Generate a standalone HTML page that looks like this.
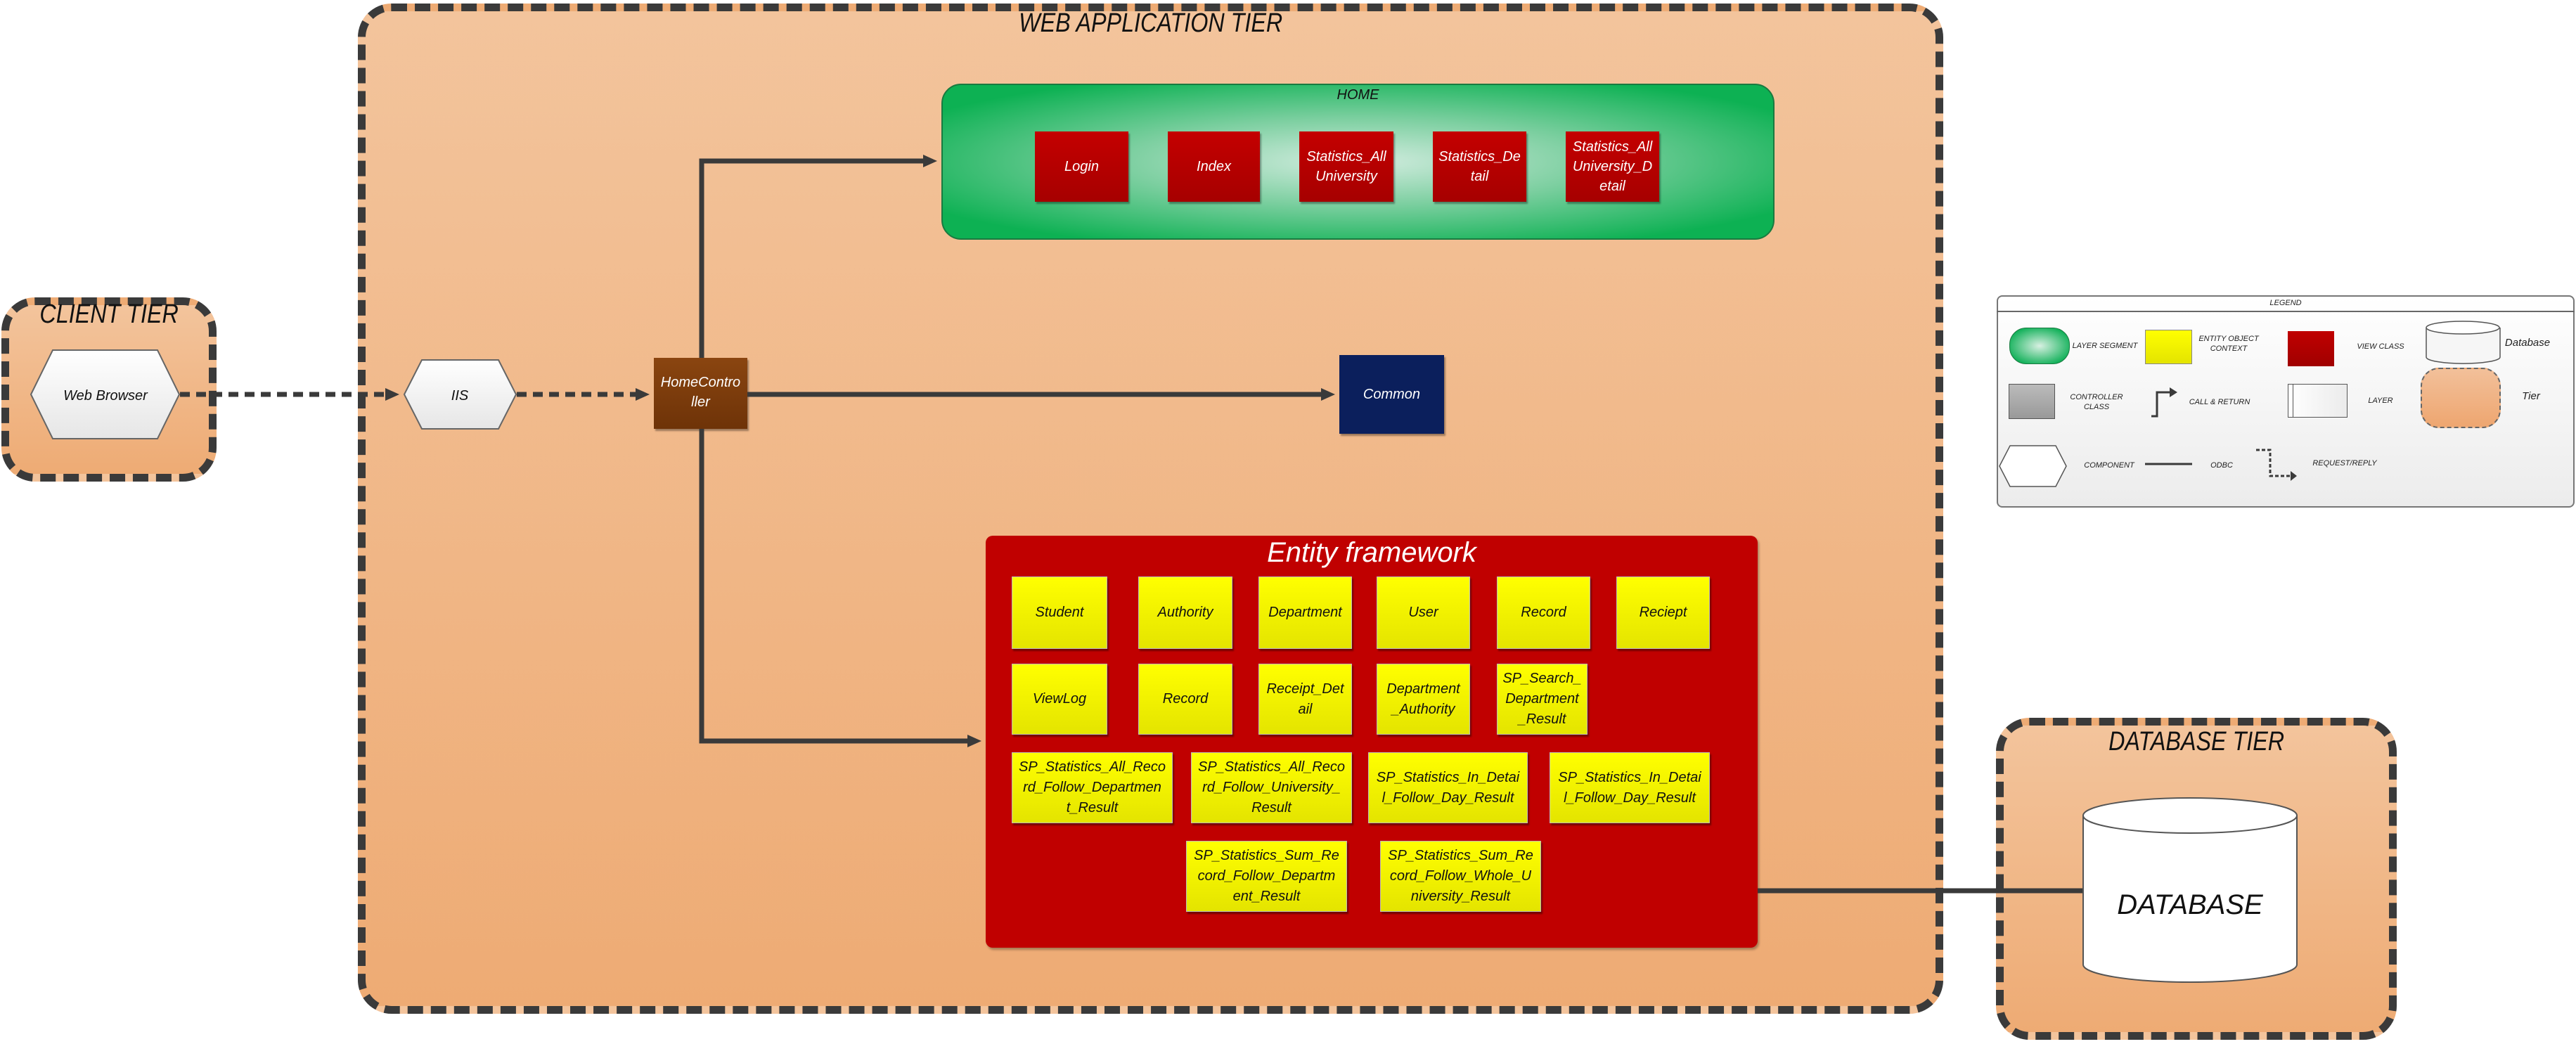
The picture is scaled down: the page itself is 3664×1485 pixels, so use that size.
<!DOCTYPE html>
<html><head><meta charset="utf-8"><style>
*{margin:0;padding:0;box-sizing:border-box}
body{width:3664px;height:1485px;background:#fff;position:relative;overflow:hidden;font-family:"Liberation Sans",sans-serif;font-style:italic}
.abs{position:absolute}
.tier{position:absolute;border:11px dashed #3a3a3a;border-radius:48px;background:linear-gradient(#f3c49c,#eeab74)}
.ttl{position:absolute;left:0;right:0;text-align:center;font-size:38px;color:#111}
.ttl span{display:inline-block;transform:scaleX(0.85)}
.red{position:absolute;background:linear-gradient(#c40000,#a60000);color:#fff;font-size:20px;display:flex;align-items:center;justify-content:center;text-align:center;line-height:28px;box-shadow:2px 3px 2px rgba(0,0,0,.35)}
.yel{position:absolute;background:linear-gradient(#ffff00,#e4e400);color:#111;font-size:20px;display:flex;align-items:center;justify-content:center;text-align:center;line-height:29px;box-shadow:2px 3px 2px rgba(0,0,0,.4);border:1px solid #bbb}
.lg{position:absolute;font-size:11px;color:#222;text-align:center;line-height:14px}
</style></head><body>

<div class="tier" style="left:509px;top:5px;width:2255px;height:1437px"></div>
<div class="ttl" style="left:509px;width:2255px;top:12px"><span>WEB APPLICATION TIER</span></div>
<div class="tier" style="left:2px;top:423px;width:306px;height:262px"></div>
<div class="ttl" style="left:2px;width:306px;top:426px"><span>CLIENT TIER</span></div>
<div class="tier" style="left:2839px;top:1021px;width:570px;height:458px"></div>
<div class="ttl" style="left:2839px;width:570px;top:1034px"><span>DATABASE TIER</span></div>

<!-- HOME -->
<div class="abs" style="left:1339px;top:119px;width:1185px;height:222px;border-radius:28px;border:2px solid #1a7a40;background:radial-gradient(ellipse at center,#d2ecdf 0%,#7ccfa0 40%,#0db153 85%)"></div>
<div class="abs" style="left:1339px;top:124px;width:1185px;text-align:center;font-size:20px;color:#111">HOME</div>
<div class="red" style="left:1472px;top:187px;width:133px;height:100px">Login</div>
<div class="red" style="left:1661px;top:187px;width:131px;height:100px">Index</div>
<div class="red" style="left:1848px;top:187px;width:134px;height:100px">Statistics_All<br>University</div>
<div class="red" style="left:2038px;top:187px;width:133px;height:100px">Statistics_De<br>tail</div>
<div class="red" style="left:2227px;top:187px;width:133px;height:100px">Statistics_All<br>University_D<br>etail</div>

<div class="abs" style="left:930px;top:509px;width:133px;height:101px;background:linear-gradient(#8a4510,#6e3308);color:#fff;font-size:20px;text-align:center;line-height:28px;padding-top:21px;box-shadow:2px 3px 2px rgba(0,0,0,.35)">HomeContro<br>ller</div>
<div class="abs" style="left:1905px;top:505px;width:149px;height:112px;background:#0b1f5c;color:#fff;font-size:20px;display:flex;align-items:center;justify-content:center;box-shadow:2px 3px 2px rgba(0,0,0,.35)">Common</div>

<!-- Entity -->
<div class="abs" style="left:1402px;top:762px;width:1098px;height:586px;border-radius:10px;background:#c00000;box-shadow:2px 3px 3px rgba(0,0,0,.3)"></div>
<div class="abs" style="left:1402px;top:764px;width:1098px;text-align:center;font-size:40px;color:#fff">Entity framework</div>
<div class="yel" style="left:1439px;top:820px;width:136px;height:103px">Student</div>
<div class="yel" style="left:1619px;top:820px;width:134px;height:103px">Authority</div>
<div class="yel" style="left:1790px;top:820px;width:133px;height:103px">Department</div>
<div class="yel" style="left:1958px;top:820px;width:133px;height:103px">User</div>
<div class="yel" style="left:2129px;top:820px;width:133px;height:103px">Record</div>
<div class="yel" style="left:2299px;top:820px;width:133px;height:103px">Reciept</div>
<div class="yel" style="left:1439px;top:944px;width:136px;height:101px">ViewLog</div>
<div class="yel" style="left:1619px;top:944px;width:134px;height:101px">Record</div>
<div class="yel" style="left:1790px;top:944px;width:133px;height:101px">Receipt_Det<br>ail</div>
<div class="yel" style="left:1958px;top:944px;width:133px;height:101px">Department<br>_Authority</div>
<div class="yel" style="left:2129px;top:944px;width:129px;height:101px">SP_Search_<br>Department<br>_Result</div>
<div class="yel" style="left:1439px;top:1070px;width:229px;height:101px">SP_Statistics_All_Reco<br>rd_Follow_Departmen<br>t_Result</div>
<div class="yel" style="left:1694px;top:1070px;width:229px;height:101px">SP_Statistics_All_Reco<br>rd_Follow_University_<br>Result</div>
<div class="yel" style="left:1946px;top:1070px;width:227px;height:101px">SP_Statistics_In_Detai<br>l_Follow_Day_Result</div>
<div class="yel" style="left:2204px;top:1070px;width:228px;height:101px">SP_Statistics_In_Detai<br>l_Follow_Day_Result</div>
<div class="yel" style="left:1687px;top:1196px;width:229px;height:101px">SP_Statistics_Sum_Re<br>cord_Follow_Departm<br>ent_Result</div>
<div class="yel" style="left:1963px;top:1196px;width:229px;height:101px">SP_Statistics_Sum_Re<br>cord_Follow_Whole_U<br>niversity_Result</div>

<!-- Legend -->
<div class="abs" style="left:2840px;top:420px;width:822px;height:302px;border:2px solid #777;border-radius:8px;background:linear-gradient(#fff,#ececec)"></div>
<div class="abs" style="left:2840px;top:442px;width:822px;border-top:2px solid #666"></div>
<div class="lg" style="left:2840px;top:424px;width:822px">LEGEND</div>
<div class="abs" style="left:2858px;top:466px;width:86px;height:52px;border-radius:24px;border:1px solid #1a7a40;background:radial-gradient(#d8f0e2,#10b058 80%)"></div>
<div class="abs" style="left:3051px;top:469px;width:67px;height:49px;background:linear-gradient(#ffff00,#e4e400);border:1px solid #888"></div>
<div class="abs" style="left:3254px;top:471px;width:66px;height:50px;background:linear-gradient(#c00000,#a00000)"></div>
<div class="abs" style="left:2857px;top:546px;width:66px;height:50px;background:linear-gradient(#bbb,#999);border:1px solid #555"></div>
<div class="abs" style="left:3254px;top:546px;width:85px;height:48px;background:linear-gradient(90deg,#fff,#ebebeb);border:1px solid #555"></div>
<div class="abs" style="left:3261px;top:546px;width:1px;height:48px;background:#555"></div>
<div class="abs" style="left:3443px;top:523px;width:114px;height:86px;border-radius:26px;border:2px dashed #666;background:linear-gradient(#f2c09a,#eea670)"></div>
<div class="lg" style="left:2944px;top:485px;width:100px">LAYER SEGMENT</div>
<div class="lg" style="left:3120px;top:475px;width:100px">ENTITY OBJECT<br>CONTEXT</div>
<div class="lg" style="left:3336px;top:486px;width:100px">VIEW CLASS</div>
<div class="lg" style="left:3560px;top:481px;width:70px;font-size:15px">Database</div>
<div class="lg" style="left:2932px;top:558px;width:100px">CONTROLLER<br>CLASS</div>
<div class="lg" style="left:3107px;top:565px;width:100px">CALL &amp; RETURN</div>
<div class="lg" style="left:3336px;top:563px;width:100px">LAYER</div>
<div class="lg" style="left:3575px;top:557px;width:50px;font-size:15px">Tier</div>
<div class="lg" style="left:2950px;top:655px;width:100px">COMPONENT</div>
<div class="lg" style="left:3120px;top:655px;width:80px">ODBC</div>
<div class="lg" style="left:3280px;top:652px;width:110px">REQUEST/REPLY</div>

<svg class="abs" style="left:0;top:0" width="3664" height="1485">
<defs>
<marker id="ah" markerWidth="24" markerHeight="22" refX="4" refY="11" orient="auto" markerUnits="userSpaceOnUse"><path d="M0,2 L20,11 L0,20 z" fill="#3a3a3a"/></marker>
<linearGradient id="hx" x1="0" y1="0" x2="0" y2="1"><stop offset="0" stop-color="#fff"/><stop offset="1" stop-color="#e6e6e6"/></linearGradient>
</defs>
<polygon points="44,561 75,498 224,498 255,561 224,624 75,624" fill="url(#hx)" stroke="#666" stroke-width="2"/>
<text x="150" y="569" font-size="20" font-style="italic" text-anchor="middle" fill="#111" font-family="Liberation Sans">Web Browser</text>
<polygon points="575,561 600,512 709,512 734,561 709,610 600,610" fill="url(#hx)" stroke="#666" stroke-width="2"/>
<text x="654" y="569" font-size="20" font-style="italic" text-anchor="middle" fill="#111" font-family="Liberation Sans">IIS</text>
<g stroke="#3a3a3a" stroke-width="7" fill="none">
<path d="M256,561 H552" stroke-dasharray="14,9" marker-end="url(#ah)"/>
<path d="M735,561 H908" stroke-dasharray="14,9" marker-end="url(#ah)"/>
<path d="M1063,561 H1883" marker-end="url(#ah)"/>
<path d="M998,509 V229 H1317" marker-end="url(#ah)"/>
<path d="M998,610 V1054 H1380" marker-end="url(#ah)"/>
<path d="M2500,1267 H2963"/>
</g>
<path d="M2963,1160 V1372 A152,25 0 0 0 3267,1372 V1160" fill="#fff" stroke="#555" stroke-width="2"/>
<ellipse cx="3115" cy="1160" rx="152" ry="25" fill="#fff" stroke="#555" stroke-width="2"/>
<text x="3115" y="1300" font-size="40" font-style="italic" text-anchor="middle" fill="#111" font-family="Liberation Sans">DATABASE</text>
<path d="M3451,466 V508 A52,9 0 0 0 3556,508 V466" fill="#f6f6f6" stroke="#555" stroke-width="1.5"/>
<ellipse cx="3503" cy="466" rx="52" ry="9" fill="#fff" stroke="#555" stroke-width="1.5"/>
<polygon points="2844,663 2859,634 2924,634 2939,663 2924,692 2859,692" fill="#fff" stroke="#555" stroke-width="1.5"/>
<path d="M3060,592 H3068 V558 H3086" stroke="#3a3a3a" stroke-width="3" fill="none"/>
<polygon points="3086,551 3097,558 3086,565" fill="#3a3a3a"/>
<path d="M3051,660 H3118" stroke="#3a3a3a" stroke-width="3"/>
<path d="M3209,640 H3229 V677 H3258" stroke="#3a3a3a" stroke-width="3" fill="none" stroke-dasharray="5,3"/>
<polygon points="3258,670 3267,677 3258,684" fill="#3a3a3a"/>
</svg>
</body></html>
